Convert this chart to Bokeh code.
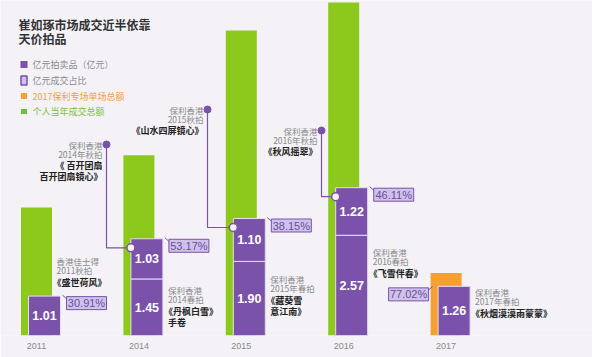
import numpy as np
from bokeh.plotting import figure
from bokeh.models import Range1d, FixedTicker
from bokeh.embed import file_html
from bokeh.resources import INLINE
from bokeh.core.properties import value

# ---------------- data ----------------
years = ["2011", "2014", "2015", "2016", "2017"]
annual_total = [3.28, 4.62, 7.82, 8.54]          # 个人当年成交总额 (2011-2016)
special_2017 = [1.60]                             # 2017保利专场单场总额
lot_first = [1.01, 1.45, 1.90, 2.57, 1.26]        # 亿元拍品 (下段)
lot_second = [0.0, 1.03, 1.10, 1.22, 0.0]         # 亿元拍品 (上段)
share_pct = ["30.91%", "53.17%", "38.15%", "46.11%", "77.02%"]
first_house = [["香港佳士得", "2011秋拍"], ["保利香港", "2014春拍"], ["保利香港", "2015年春拍"],
               ["保利香港", "2016春拍"], ["保利香港", "2017年春拍"]]
first_title = [["《盛世荷风》"], ["《丹枫白雪》", "手卷"], ["《藏葵雪", "意江南》"],
               ["《飞雪伴春》"], ["《秋烟漠漠雨蒙蒙》"]]
second_house = {1: ["保利香港", "2014年秋拍"], 2: ["保利香港", "2015秋拍"], 3: ["保利香港", "2016年秋拍"]}
second_title = {1: ["《 百开团扇", "百开团扇镜心》"], 2: ["《山水四屏镜心》"], 3: ["《秋风摇翠》"]}
title_lines = ["崔如琢市场成交近半依靠", "天价拍品"]
legend_labels = ["亿元拍卖品（亿元）", "亿元成交占比", "2017保利专场单场总额", "个人当年成交总额"]

# ---------------- style / layout ----------------
BG = "#f4f2f6"
GREEN = "#8dc91c"
PURPLE = "#7a52aa"
ORANGE = "#f4a035"
BOXFILL = "#cfc2ea"
PCTTXT = "#6a4c9f"
GREY = "#8a8a8a"
CJK = value("Noto Sans CJK SC")
NUMF = value("Liberation Sans")

W, H, AX = 592, 357, 22
FH = H - AX
XS, X0, YS = 102.4, 36.0, 39.0     # px per x-unit, px of first group, px per 亿元


def dxp(px):
    return px / XS


def dyp(px):
    return px / YS


def px_x(px):
    return (px - X0) / XS


def px_y(py):
    return (FH - py) / YS


p = figure(width=W, height=H, x_range=Range1d(px_x(0), px_x(W)), y_range=Range1d(0, FH / YS),
           output_backend="svg", toolbar_location=None,
           min_border_left=0, min_border_right=0, min_border_top=0, min_border_bottom=AX)
p.background_fill_color = BG
p.border_fill_color = BG
p.outline_line_color = None
p.grid.visible = False
p.yaxis.visible = False
p.xaxis.ticker = FixedTicker(ticks=list(range(len(years))))
p.xaxis.major_label_overrides = {i: y for i, y in enumerate(years)}
p.xaxis.axis_line_color = None
p.xaxis.major_tick_line_color = None
p.xaxis.minor_tick_line_color = None
p.xaxis.major_tick_out = 0
p.xaxis.major_label_standoff = 7
p.xaxis.major_label_text_font_size = "9px"
p.xaxis.major_label_text_color = GREY
p.xaxis.major_label_text_font = "Liberation Sans"

idx = np.arange(len(years), dtype=float)
first = np.array(lot_first)
second = np.array(lot_second)
tops = first + second

GW, PW, POFF = dxp(31), dxp(32), dxp(8)

# background bars
p.vbar(x=idx[:4], top=annual_total, width=GW, fill_color=GREEN, line_color=None)
p.vbar(x=idx[4:], top=special_2017, width=GW, fill_color=ORANGE, line_color=None)

# purple stacked bars
px_c = idx + POFF
p.vbar(x=px_c, bottom=0, top=first, width=PW, fill_color=PURPLE, line_color="#e6def2", line_width=1)
sel = second > 0
p.vbar(x=px_c[sel], bottom=first[sel], top=tops[sel], width=PW, fill_color=PURPLE,
       line_color="#e6def2", line_width=1)

p.text(x=px_c, y=first / 2, text=[f"{v:.2f}" for v in first], text_align="center",
       text_baseline="middle", text_color="white", text_font=NUMF, text_font_style="bold",
       text_font_size="12.5px")
p.text(x=px_c[sel], y=first[sel] + second[sel] / 2, text=[f"{v:.2f}" for v in second[sel]],
       text_align="center", text_baseline="middle", text_color="white", text_font=NUMF,
       text_font_style="bold", text_font_size="12.5px")

# percentage tags
bx, by = [], []
for i in range(len(years)):
    if i < 4:
        bx.append(px_c[i] + PW / 2 + dxp(6 + 20))
        by.append(tops[i] - dyp(7))
    else:
        bx.append(idx[i] - GW / 2 - dxp(2 + 20))
        by.append(tops[i] - dyp(8))
bx, by = np.array(bx), np.array(by)
# small folded-corner tick pointing to the bar
for i in range(len(years)):
    s = -1 if i < 4 else 1
    xe = bx[i] + s * dxp(20)
    p.line([xe - s * dxp(1), xe + s * dxp(4)], [by[i] + dyp(3.5), by[i] + dyp(8)],
           line_color=PURPLE, line_width=1)
p.rect(x=bx, y=by, width=40, height=13, width_units="screen", height_units="screen",
       fill_color=BOXFILL, line_color=PURPLE, line_width=1)
p.text(x=bx, y=by, text=share_pct, text_align="center", text_baseline="middle",
       text_color=PCTTXT, text_font=NUMF, text_font_size="11px")

# spring / single-lot labels
first_lx = [px_c[0] + PW / 2 - dxp(4)] + [px_c[i] + PW / 2 + dxp(5) for i in range(1, 5)]
first_ly = [260, 289, 278, 251, 291]
for i in range(len(years)):
    y0 = first_ly[i]
    for k, t in enumerate(first_house[i]):
        p.text(x=[first_lx[i]], y=[px_y(y0 + 9 * k)], text=[t], text_align="left",
               text_baseline="middle", text_color=GREY, text_font=CJK, text_font_size="8.5px")
    for k, t in enumerate(first_title[i]):
        xo = -4 if t.startswith("《") else 0
        p.text(x=[first_lx[i] + dxp(xo)], y=[px_y(y0 + 9 + 13 + 11 * k)], text=[t],
               text_align="left", text_baseline="middle", text_color="#222222", text_font=CJK,
               text_font_style="bold", text_font_size="9px")

# autumn lots with leader lines
dot_x = {1: 106, 2: 207, 3: 321}
dot_y = {1: 144, 2: 109, 3: 130}
for i in (1, 2, 3):
    cx = px_c[i] - PW / 2
    cy = tops[i] - dyp(9)
    dx_, dy_ = px_x(dot_x[i]), px_y(dot_y[i])
    p.line([dx_, dx_, cx], [dy_, cy, cy], line_color=PURPLE, line_width=1.2)
    p.scatter([dx_], [dy_], size=7, fill_color=PURPLE, line_color=PURPLE)
    p.scatter([cx], [cy], size=8, fill_color=BG, line_color=PURPLE, line_width=1.5)
    rx = dx_ - dxp(4)
    for k, t in enumerate(second_house[i]):
        p.text(x=[rx], y=[px_y(dot_y[i] + 9 * k)], text=[t], text_align="right",
               text_baseline="middle", text_color=GREY, text_font=CJK, text_font_size="8.5px")
    for k, t in enumerate(second_title[i]):
        p.text(x=[rx], y=[px_y(dot_y[i] + 21 + 11 * k)], text=[t], text_align="right",
               text_baseline="middle", text_color="#222222", text_font=CJK,
               text_font_style="bold", text_font_size="9px")

# title
for k, t in enumerate(title_lines):
    p.text(x=[px_x(18)], y=[px_y(24 + 14 * k)], text=[t], text_align="left", text_baseline="middle",
           text_color="#333333", text_font=CJK, text_font_style="bold", text_font_size="12px")

# legend (drawn manually, each label has its own colour)
ly = [64, 80, 95.5, 111]
lx = px_x(23.5)
p.rect(x=[lx], y=[px_y(ly[0])], width=7, height=7, width_units="screen", height_units="screen",
       fill_color=PURPLE, line_color=None)
p.rect(x=[lx], y=[px_y(ly[1])], width=6, height=9, width_units="screen", height_units="screen",
       fill_color=BOXFILL, line_color=PURPLE, line_width=1.5)
p.rect(x=[lx], y=[px_y(ly[2])], width=6, height=6, width_units="screen", height_units="screen",
       fill_color=ORANGE, line_color=None)
p.rect(x=[lx], y=[px_y(ly[3])], width=6, height=5, width_units="screen", height_units="screen",
       fill_color="#6cc23a", line_color=None)
leg_colors = [GREY, GREY, "#f0a040", "#7cc23a"]
for k, t in enumerate(legend_labels):
    p.text(x=[px_x(32)], y=[px_y(ly[k])], text=[t], text_align="left", text_baseline="middle",
           text_color=leg_colors[k], text_font=CJK, text_font_size="9px")

open("out.html", "w").write(file_html(p, INLINE))
